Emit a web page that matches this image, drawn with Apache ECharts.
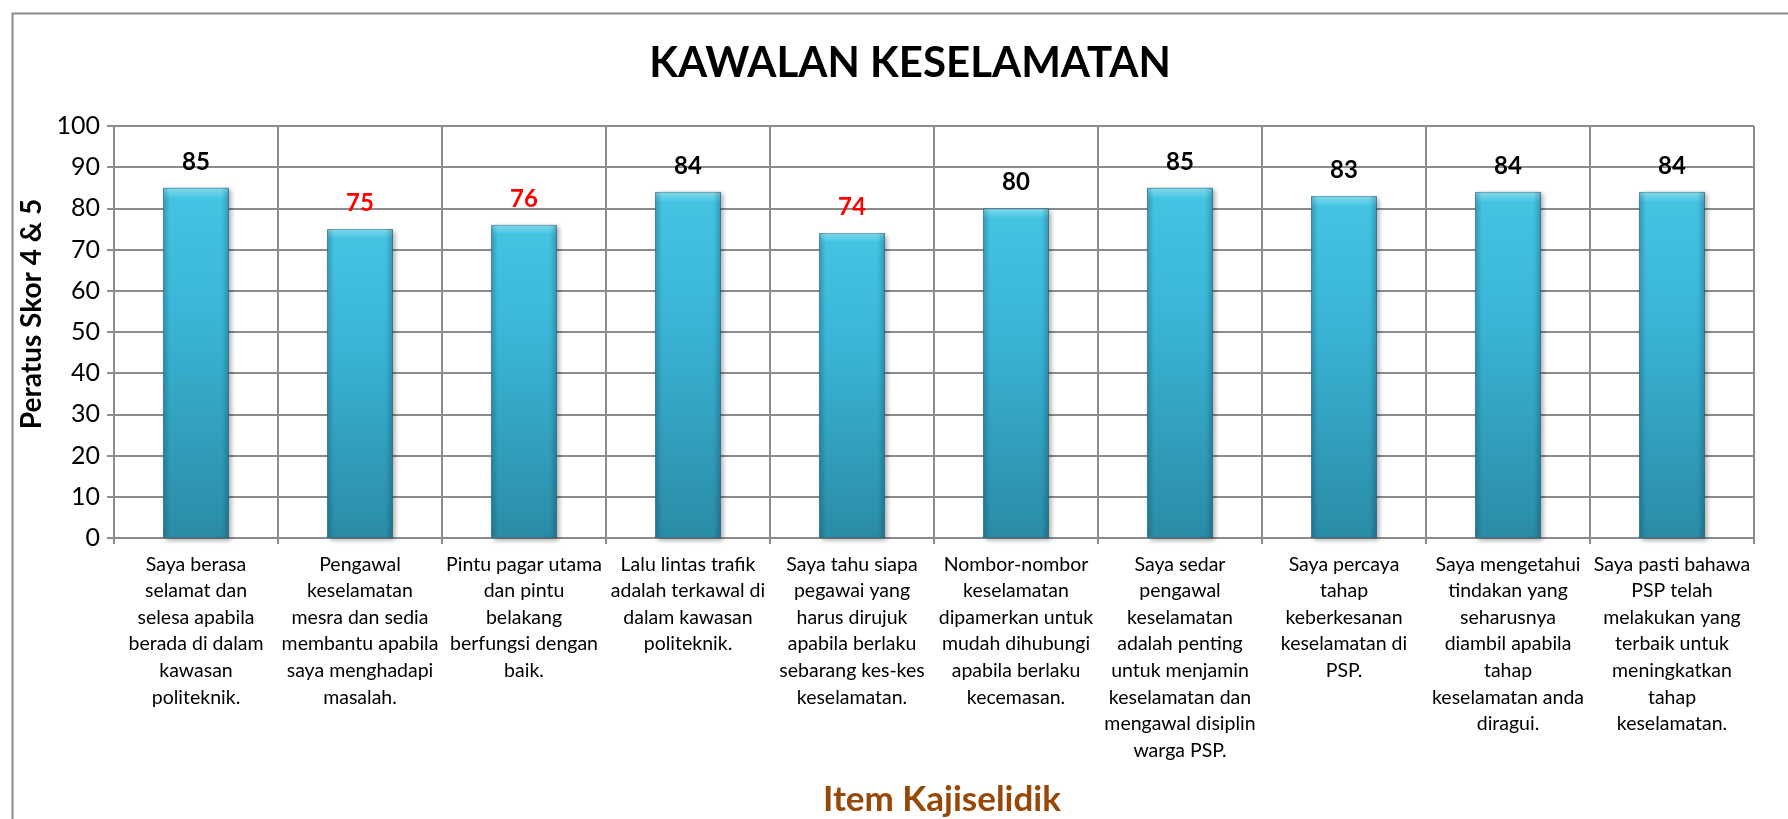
<!DOCTYPE html>
<html>
<head>
<meta charset="utf-8">
<title>KAWALAN KESELAMATAN</title>
<script src="https://cdn.jsdelivr.net/npm/echarts@6/dist/echarts.min.js"></script>
<style>
  html, body { margin: 0; padding: 0; background: #fff; }
  #chart { width: 1788px; height: 819px; }
</style>
</head>
<body>
<div id="chart"></div>
<script>
// item kajiselidik (line breaks as in the original sheet)
var categories = [
  "Saya berasa\nselamat dan\nselesa apabila\nberada di dalam\nkawasan\npoliteknik.",
  "Pengawal\nkeselamatan\nmesra dan sedia\nmembantu apabila\nsaya menghadapi\nmasalah.",
  "Pintu pagar utama\ndan pintu\nbelakang\nberfungsi dengan\nbaik.",
  "Lalu lintas trafik\nadalah terkawal di\ndalam kawasan\npoliteknik.",
  "Saya tahu siapa\npegawai yang\nharus dirujuk\napabila berlaku\nsebarang kes-kes\nkeselamatan.",
  "Nombor-nombor\nkeselamatan\ndipamerkan untuk\nmudah dihubungi\napabila berlaku\nkecemasan.",
  "Saya sedar\npengawal\nkeselamatan\nadalah penting\nuntuk menjamin\nkeselamatan dan\nmengawal disiplin\nwarga PSP.",
  "Saya percaya\ntahap\nkeberkesanan\nkeselamatan di\nPSP.",
  "Saya mengetahui\ntindakan yang\nseharusnya\ndiambil apabila\ntahap\nkeselamatan anda\ndiragui.",
  "Saya pasti bahawa\nPSP telah\nmelakukan yang\nterbaik untuk\nmeningkatkan\ntahap\nkeselamatan."
];
// peratus skor 4 & 5
var values = [85, 75, 76, 84, 74, 80, 85, 83, 84, 84];
var yMin = 0, yMax = 100, yStep = 10;

var FONT = "Lato, 'Open Sans', sans-serif";
var gridColor = "#8c8c8c";

var chart = echarts.init(document.getElementById("chart"));

// below 80 the label turns red
var barData = values.map(function (v) {
  return {
    value: v,
    label: { color: v < 80 ? "#ff0000" : "#000000" }
  };
});

chart.setOption({
  animation: false,
  title: {
    text: "KAWALAN KESELAMATAN",
    left: 905,
    textAlign: "center",
    top: 37,
    textStyle: { fontFamily: FONT, fontSize: 42, fontWeight: "bold", color: "#000" }
  },
  grid: { left: 114, right: 34, top: 126, bottom: 281, outerBoundsMode: "none" },
  xAxis: {
    type: "category",
    data: categories,
    name: "Item Kajiselidik",
    nameLocation: "middle",
    nameGap: 244,
    nameTextStyle: {
      fontFamily: FONT, fontSize: 35, fontWeight: "bold", color: "#974706",
      padding: [0, 0, 0, 16]
    },
    axisLine: { show: true, lineStyle: { color: gridColor, width: 2 } },
    axisTick: { show: true, length: 6, lineStyle: { color: gridColor, width: 2 } },
    splitLine: { show: true, lineStyle: { color: gridColor, width: 2 } },
    axisLabel: {
      interval: 0,
      margin: 13,
      fontFamily: FONT,
      fontSize: 19.5,
      lineHeight: 26.6,
      color: "#000",
      align: "center"
    }
  },
  yAxis: {
    type: "value",
    min: yMin,
    max: yMax,
    interval: yStep,
    name: "Peratus Skor 4 & 5",
    nameLocation: "middle",
    nameGap: 66,
    nameTextStyle: {
      fontFamily: FONT, fontSize: 28, fontWeight: "bold", color: "#000",
      padding: [0, 0, 0, 36]
    },
    axisLine: { show: true, lineStyle: { color: gridColor, width: 2 } },
    axisTick: { show: true, length: 7, lineStyle: { color: gridColor, width: 2 } },
    splitLine: { show: true, lineStyle: { color: gridColor, width: 2 } },
    axisLabel: { margin: 14, fontFamily: FONT, fontSize: 25, color: "#000" }
  },
  graphic: [
    {
      // outer chart frame (runs past the right/bottom edge)
      type: "rect",
      left: 10, top: 11,
      shape: { x: 0, y: 0, width: 1800, height: 900 },
      style: { fill: "none", stroke: gridColor, lineWidth: 2 },
      silent: true
    }
  ],
  series: [
    {
      name: "Peratus",
      type: "bar",
      data: barData,
      barWidth: 66,
      z: 3,
      itemStyle: {
        color: new echarts.graphic.LinearGradient(0, 0, 0, 1, [
          { offset: 0, color: "#8ae3f5" },
          { offset: 0.03, color: "#44c3e3" },
          { offset: 0.35, color: "#3bb6d8" },
          { offset: 1, color: "#2a8ca6" }
        ]),
        borderColor: "rgba(40,120,145,0.6)",
        borderWidth: 1,
        shadowColor: "rgba(0,0,0,0.35)",
        shadowBlur: 5,
        shadowOffsetX: 2,
        shadowOffsetY: 2
      },
      label: {
        show: true,
        position: "top",
        distance: 14,
        fontFamily: FONT,
        fontSize: 24,
        fontWeight: "bold"
      }
    },
    {
      // side shading overlay for the bevelled look
      name: "shade",
      type: "bar",
      data: values,
      barWidth: 66,
      barGap: "-100%",
      z: 4,
      silent: true,
      itemStyle: {
        color: new echarts.graphic.LinearGradient(0, 0, 1, 0, [
          { offset: 0, color: "rgba(0,40,60,0.22)" },
          { offset: 0.1, color: "rgba(0,40,60,0)" },
          { offset: 0.88, color: "rgba(0,40,60,0)" },
          { offset: 1, color: "rgba(0,40,60,0.25)" }
        ])
      },
      label: { show: false }
    }
  ]
});
</script>
</body>
</html>
